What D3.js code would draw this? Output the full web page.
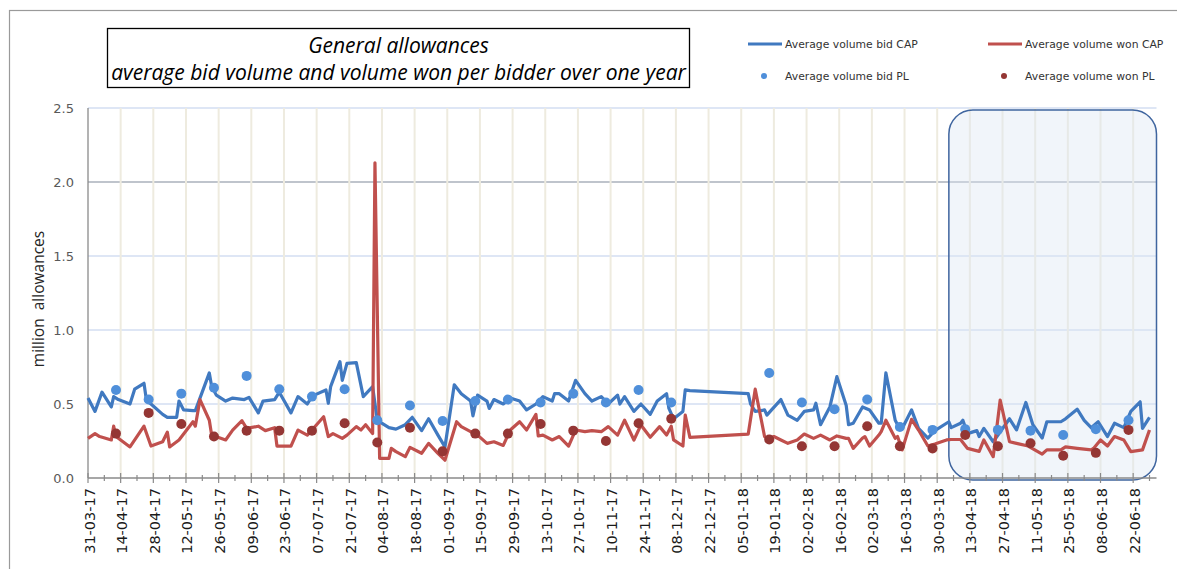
<!DOCTYPE html>
<html><head><meta charset="utf-8">
<script src="https://cdn.jsdelivr.net/npm/d3@7"></script>
<style>body{margin:0;background:#fff}svg{display:block}</style>
</head><body>
<svg id="chart" width="1177" height="569"></svg>
<script>
// ---------------- DATA ----------------
const titleLines = ["General allowances", "average bid volume and volume won per bidder over one year"];
const seriesNames = ["Average volume bid CAP", "Average volume won CAP", "Average volume bid PL", "Average volume won PL"];
const yAxisTitle = "million  allowances";
const yTicks = [0.0, 0.5, 1.0, 1.5, 2.0, 2.5];
const xTickLabels = ["31-03-17","14-04-17","28-04-17","12-05-17","26-05-17","09-06-17","23-06-17","07-07-17","21-07-17","04-08-17","18-08-17","01-09-17","15-09-17","29-09-17","13-10-17","27-10-17","10-11-17","24-11-17","08-12-17","22-12-17","05-01-18","19-01-18","02-02-18","16-02-18","02-03-18","16-03-18","30-03-18","13-04-18","27-04-18","11-05-18","25-05-18","08-06-18","22-06-18"];
const xDomain = ["2017-03-31", "2018-07-02"];

const bidCapDates = ["2017-03-31","2017-04-03","2017-04-06","2017-04-10","2017-04-11","2017-04-13","2017-04-18","2017-04-20","2017-04-24","2017-04-25","2017-04-27","2017-05-02","2017-05-04","2017-05-08","2017-05-09","2017-05-11","2017-05-15","2017-05-16","2017-05-18","2017-05-22","2017-05-23","2017-05-25","2017-05-29","2017-06-01","2017-06-06","2017-06-08","2017-06-12","2017-06-14","2017-06-19","2017-06-21","2017-06-26","2017-06-29","2017-07-03","2017-07-05","2017-07-06","2017-07-11","2017-07-12","2017-07-13","2017-07-17","2017-07-18","2017-07-20","2017-07-24","2017-07-27","2017-07-31","2017-08-02","2017-08-07","2017-08-10","2017-08-14","2017-08-17","2017-08-21","2017-08-24","2017-08-28","2017-08-31","2017-09-04","2017-09-07","2017-09-11","2017-09-12","2017-09-14","2017-09-18","2017-09-19","2017-09-21","2017-09-25","2017-09-28","2017-10-02","2017-10-05","2017-10-09","2017-10-12","2017-10-16","2017-10-17","2017-10-19","2017-10-23","2017-10-26","2017-10-30","2017-11-02","2017-11-06","2017-11-09","2017-11-13","2017-11-14","2017-11-16","2017-11-20","2017-11-23","2017-11-27","2017-11-30","2017-12-04","2017-12-05","2017-12-07","2017-12-11","2017-12-12","2017-12-14","2018-01-08","2018-01-09","2018-01-11","2018-01-15","2018-01-16","2018-01-18","2018-01-22","2018-01-25","2018-01-29","2018-02-01","2018-02-05","2018-02-06","2018-02-08","2018-02-12","2018-02-15","2018-02-19","2018-02-20","2018-02-22","2018-02-26","2018-03-01","2018-03-05","2018-03-06","2018-03-08","2018-03-12","2018-03-13","2018-03-15","2018-03-19","2018-03-22","2018-03-26","2018-03-29","2018-04-04","2018-04-05","2018-04-09","2018-04-10","2018-04-12","2018-04-16","2018-04-17","2018-04-19","2018-04-23","2018-04-30","2018-05-03","2018-05-07","2018-05-10","2018-05-14","2018-05-16","2018-05-22","2018-05-24","2018-05-29","2018-06-01","2018-06-04","2018-06-07","2018-06-11","2018-06-14","2018-06-18","2018-06-21","2018-06-25","2018-06-26","2018-06-29"];
const bidCapValues = [0.54,0.45,0.58,0.48,0.55,0.53,0.50,0.60,0.64,0.53,0.50,0.43,0.41,0.41,0.52,0.46,0.455,0.455,0.54,0.71,0.62,0.56,0.52,0.54,0.53,0.545,0.44,0.52,0.53,0.58,0.44,0.55,0.50,0.55,0.56,0.595,0.505,0.617,0.786,0.66,0.775,0.78,0.55,0.617,0.39,0.34,0.33,0.36,0.41,0.32,0.40,0.29,0.21,0.63,0.57,0.52,0.42,0.56,0.52,0.47,0.53,0.50,0.54,0.52,0.46,0.50,0.55,0.52,0.57,0.57,0.52,0.66,0.57,0.52,0.55,0.50,0.56,0.50,0.55,0.45,0.50,0.43,0.52,0.57,0.47,0.40,0.45,0.595,0.59,0.57,0.50,0.45,0.46,0.425,0.46,0.53,0.425,0.39,0.45,0.46,0.505,0.36,0.48,0.685,0.49,0.36,0.37,0.48,0.46,0.37,0.37,0.71,0.39,0.36,0.335,0.46,0.335,0.27,0.32,0.38,0.34,0.37,0.39,0.30,0.32,0.28,0.335,0.245,0.40,0.325,0.51,0.36,0.27,0.38,0.38,0.40,0.465,0.39,0.34,0.38,0.28,0.37,0.34,0.45,0.515,0.335,0.41];

const wonCapDates = ["2017-03-31","2017-04-03","2017-04-05","2017-04-10","2017-04-11","2017-04-12","2017-04-13","2017-04-18","2017-04-24","2017-04-27","2017-05-02","2017-05-04","2017-05-05","2017-05-09","2017-05-15","2017-05-16","2017-05-18","2017-05-22","2017-05-23","2017-05-29","2017-06-01","2017-06-05","2017-06-07","2017-06-12","2017-06-15","2017-06-19","2017-06-20","2017-06-26","2017-06-29","2017-07-03","2017-07-05","2017-07-10","2017-07-12","2017-07-14","2017-07-18","2017-07-20","2017-07-24","2017-07-26","2017-07-28","2017-07-31","2017-08-01","2017-08-03","2017-08-07","2017-08-08","2017-08-10","2017-08-14","2017-08-16","2017-08-21","2017-08-24","2017-08-28","2017-08-31","2017-09-05","2017-09-07","2017-09-11","2017-09-12","2017-09-14","2017-09-18","2017-09-21","2017-09-25","2017-09-28","2017-10-02","2017-10-05","2017-10-09","2017-10-10","2017-10-12","2017-10-16","2017-10-19","2017-10-23","2017-10-26","2017-10-30","2017-11-02","2017-11-06","2017-11-09","2017-11-13","2017-11-16","2017-11-20","2017-11-23","2017-11-27","2017-12-01","2017-12-04","2017-12-06","2017-12-07","2017-12-11","2017-12-12","2017-12-14","2018-01-08","2018-01-11","2018-01-15","2018-01-16","2018-01-19","2018-01-22","2018-01-25","2018-01-29","2018-02-01","2018-02-05","2018-02-08","2018-02-12","2018-02-15","2018-02-19","2018-02-20","2018-02-22","2018-02-26","2018-02-27","2018-03-01","2018-03-05","2018-03-06","2018-03-08","2018-03-12","2018-03-13","2018-03-15","2018-03-19","2018-03-22","2018-03-26","2018-03-29","2018-04-03","2018-04-05","2018-04-09","2018-04-12","2018-04-17","2018-04-19","2018-04-23","2018-04-26","2018-04-30","2018-05-03","2018-05-08","2018-05-14","2018-05-16","2018-05-22","2018-05-24","2018-05-29","2018-06-04","2018-06-05","2018-06-08","2018-06-11","2018-06-14","2018-06-18","2018-06-21","2018-06-26","2018-06-29"];
const wonCapValues = [0.268,0.30,0.28,0.257,0.35,0.28,0.268,0.21,0.35,0.216,0.245,0.31,0.21,0.257,0.38,0.35,0.53,0.39,0.29,0.257,0.324,0.387,0.335,0.35,0.32,0.34,0.216,0.216,0.324,0.29,0.324,0.414,0.28,0.30,0.268,0.29,0.347,0.324,0.36,0.30,2.13,0.133,0.133,0.20,0.178,0.144,0.207,0.167,0.234,0.167,0.12,0.38,0.347,0.313,0.31,0.29,0.234,0.245,0.22,0.324,0.38,0.324,0.43,0.284,0.29,0.257,0.28,0.216,0.324,0.313,0.32,0.313,0.347,0.29,0.39,0.257,0.358,0.275,0.347,0.29,0.35,0.257,0.216,0.425,0.275,0.297,0.60,0.28,0.27,0.28,0.257,0.234,0.257,0.297,0.268,0.29,0.257,0.284,0.268,0.268,0.20,0.27,0.28,0.216,0.29,0.313,0.39,0.268,0.28,0.19,0.396,0.324,0.216,0.23,0.257,0.26,0.26,0.20,0.18,0.257,0.144,0.527,0.245,0.234,0.216,0.162,0.19,0.19,0.21,0.20,0.19,0.20,0.257,0.216,0.28,0.257,0.178,0.19,0.324];

const plDates = ["2017-04-12","2017-04-26","2017-05-10","2017-05-24","2017-06-07","2017-06-21","2017-07-05","2017-07-19","2017-08-02","2017-08-16","2017-08-30","2017-09-13","2017-09-27","2017-10-11","2017-10-25","2017-11-08","2017-11-22","2017-12-06","2018-01-17","2018-01-31","2018-02-14","2018-02-28","2018-03-14","2018-03-28","2018-04-11","2018-04-25","2018-05-09","2018-05-23","2018-06-06","2018-06-20"];
const bidPlValues = [0.595,0.53,0.57,0.61,0.69,0.60,0.55,0.60,0.39,0.49,0.385,0.52,0.53,0.51,0.57,0.51,0.595,0.51,0.71,0.51,0.465,0.53,0.345,0.325,0.33,0.325,0.32,0.29,0.33,0.39];
const wonPlValues = [0.30,0.44,0.365,0.28,0.32,0.32,0.32,0.37,0.24,0.34,0.18,0.30,0.30,0.365,0.32,0.25,0.37,0.40,0.26,0.215,0.215,0.35,0.215,0.20,0.29,0.215,0.235,0.15,0.17,0.325];

const highlightFrom = "2018-04-04"; // start of highlighted period

// ---------------- CHART ----------------
const svg = d3.select("#chart");
const parseISO = d3.timeParse("%Y-%m-%d");
const parseLbl = d3.timeParse("%d-%m-%y");
const plot = {left: 88, right: 1156.5, top: 108, bottom: 478};

const x = d3.scaleTime().domain(xDomain.map(parseISO)).range([plot.left, plot.right]);
const y = d3.scaleLinear().domain([0, 2.5]).range([plot.bottom, plot.top]);

const COL = {bidCap: "#4079c0", wonCap: "#c0504d", bidPl: "#4f8fda", wonPl: "#943634"};
const FONT = "'DejaVu Sans', Verdana, sans-serif";

// outer frame
svg.append("rect").attr("x", 9.5).attr("y", 10.5).attr("width", 1250).attr("height", 700)
  .attr("fill", "none").attr("stroke", "#9a9a9a").attr("stroke-width", 1.2);

// title box
const tb = svg.append("g");
tb.append("rect").attr("x", 107.5).attr("y", 28.5).attr("width", 582).attr("height", 59)
  .attr("fill", "#fff").attr("stroke", "#000").attr("stroke-width", 1.3);
const tCx = 107.5 + 582 / 2;
const t1 = tb.append("text").attr("x", tCx).attr("y", 53).text(titleLines[0]);
const t2 = tb.append("text").attr("x", tCx).attr("y", 80).text(titleLines[1]);
[t1, t2].forEach(t => t.attr("text-anchor", "middle").attr("font-family", "'Open Sans', sans-serif")
  .attr("font-style", "italic").attr("font-size", 19).attr("fill", "#000"));
const target = 575;
const w2 = t2.node().getComputedTextLength();
const fs = 19 * target / w2;
t1.attr("font-size", fs); t2.attr("font-size", fs);

// horizontal gridlines
const gGrid = svg.append("g");
yTicks.filter(v => v > 0).forEach(v => {
  gGrid.append("line").attr("x1", plot.left).attr("x2", plot.right)
    .attr("y1", y(v)).attr("y2", y(v))
    .attr("stroke", v === 2.0 ? "#bfc4cc" : "#d3def2").attr("stroke-width", v === 2.0 ? 2 : 1.5);
});
// vertical gridlines at label dates
const labelDates = xTickLabels.map(parseLbl);
labelDates.slice(1).forEach(d => {
  gGrid.append("line").attr("x1", x(d)).attr("x2", x(d)).attr("y1", plot.top).attr("y2", plot.bottom)
    .attr("stroke", "#eeebdf").attr("stroke-width", 2);
});

// highlight rounded box
const hx0 = x(parseISO(highlightFrom));
svg.append("rect").attr("x", hx0).attr("y", plot.top + 2).attr("width", plot.right - hx0).attr("height", plot.bottom - plot.top)
  .attr("rx", 24).attr("ry", 24)
  .attr("fill", "#dbe5f3").attr("fill-opacity", 0.4)
  .attr("stroke", "#3f659f").attr("stroke-width", 1.5);

// axes
const axisCol = "#8a8a8a";
svg.append("line").attr("x1", plot.left).attr("x2", plot.left).attr("y1", plot.top).attr("y2", plot.bottom)
  .attr("stroke", axisCol).attr("stroke-width", 1.3);
const gy = svg.append("g").attr("transform", `translate(${plot.left},0)`)
  .call(d3.axisLeft(y).tickValues(yTicks).tickFormat(d3.format(".1f")).tickSize(0).tickPadding(14));
gy.select(".domain").remove();
gy.selectAll("text").attr("font-family", FONT).attr("font-size", 13).attr("fill", "#595959");

// x axis with major (14 days) and minor (7 days) ticks
const weekDates = d3.timeDays(parseISO(xDomain[0]), d3.timeDay.offset(parseISO(xDomain[1]), 1)).filter((d, i) => i % 7 === 0);
const gx = svg.append("g").attr("transform", `translate(0,${plot.bottom})`);
gx.append("line").attr("x1", plot.left).attr("x2", plot.right).attr("y1", 0).attr("y2", 0)
  .attr("stroke", axisCol).attr("stroke-width", 1.3);
weekDates.forEach((d, i) => {
  const major = i % 2 === 0;
  gx.append("line").attr("x1", x(d)).attr("x2", x(d))
    .attr("y1", major ? -5 : -3).attr("y2", major ? 5 : 3)
    .attr("stroke", axisCol).attr("stroke-width", 1.2);
});
gx.selectAll("text.xl").data(xTickLabels).join("text").attr("class", "xl")
  .attr("transform", (s) => `translate(${x(parseLbl(s)) + 1.5},${10}) rotate(-90)`)
  .attr("text-anchor", "end").attr("dominant-baseline", "central")
  .attr("font-family", FONT).attr("font-size", 14.5).attr("fill", "#1a1a1a")
  .text(s => s);

// y axis title
svg.append("text").attr("transform", `translate(38,${(plot.top + plot.bottom) / 2 + 6}) rotate(-90)`)
  .attr("text-anchor", "middle").attr("dominant-baseline", "central")
  .attr("font-family", "'Open Sans', sans-serif").attr("font-size", 15.5).attr("fill", "#262626")
  .style("white-space", "pre").text(yAxisTitle);

// series lines
const line = d3.line().x(d => x(d[0])).y(d => y(d[1])).curve(d3.curveLinear);
const bidCap = bidCapDates.map((d, i) => [parseISO(d), bidCapValues[i]]);
const wonCap = wonCapDates.map((d, i) => [parseISO(d), wonCapValues[i]]);
svg.append("path").datum(bidCap).attr("d", line).attr("fill", "none")
  .attr("stroke", COL.bidCap).attr("stroke-width", 3.2).attr("stroke-linejoin", "round");
svg.append("path").datum(wonCap).attr("d", line).attr("fill", "none")
  .attr("stroke", COL.wonCap).attr("stroke-width", 3.2).attr("stroke-linejoin", "round");

// PL points
const pl = plDates.map(parseISO);
svg.append("g").selectAll("circle").data(pl).join("circle")
  .attr("cx", d => x(d)).attr("cy", (d, i) => y(bidPlValues[i])).attr("r", 5).attr("fill", COL.bidPl);
svg.append("g").selectAll("circle").data(pl).join("circle")
  .attr("cx", d => x(d)).attr("cy", (d, i) => y(wonPlValues[i])).attr("r", 5).attr("fill", COL.wonPl);

// legend
const lg = svg.append("g").attr("font-family", FONT).attr("font-size", 10.8).attr("fill", "#333");
const legendItems = [
  {name: seriesNames[0], col: COL.bidCap, type: "line", lx: 748, ly: 44},
  {name: seriesNames[1], col: COL.wonCap, type: "line", lx: 988, ly: 44},
  {name: seriesNames[2], col: COL.bidPl, type: "dot", lx: 748, ly: 76},
  {name: seriesNames[3], col: COL.wonPl, type: "dot", lx: 988, ly: 76}
];
legendItems.forEach(it => {
  if (it.type === "line") {
    lg.append("line").attr("x1", it.lx).attr("x2", it.lx + 34).attr("y1", it.ly).attr("y2", it.ly)
      .attr("stroke", it.col).attr("stroke-width", 3);
  } else {
    lg.append("circle").attr("cx", it.lx + 16).attr("cy", it.ly).attr("r", 3).attr("fill", it.col);
  }
  lg.append("text").attr("x", it.lx + 37).attr("y", it.ly).attr("dominant-baseline", "central").text(it.name);
});
</script>
</body></html>
